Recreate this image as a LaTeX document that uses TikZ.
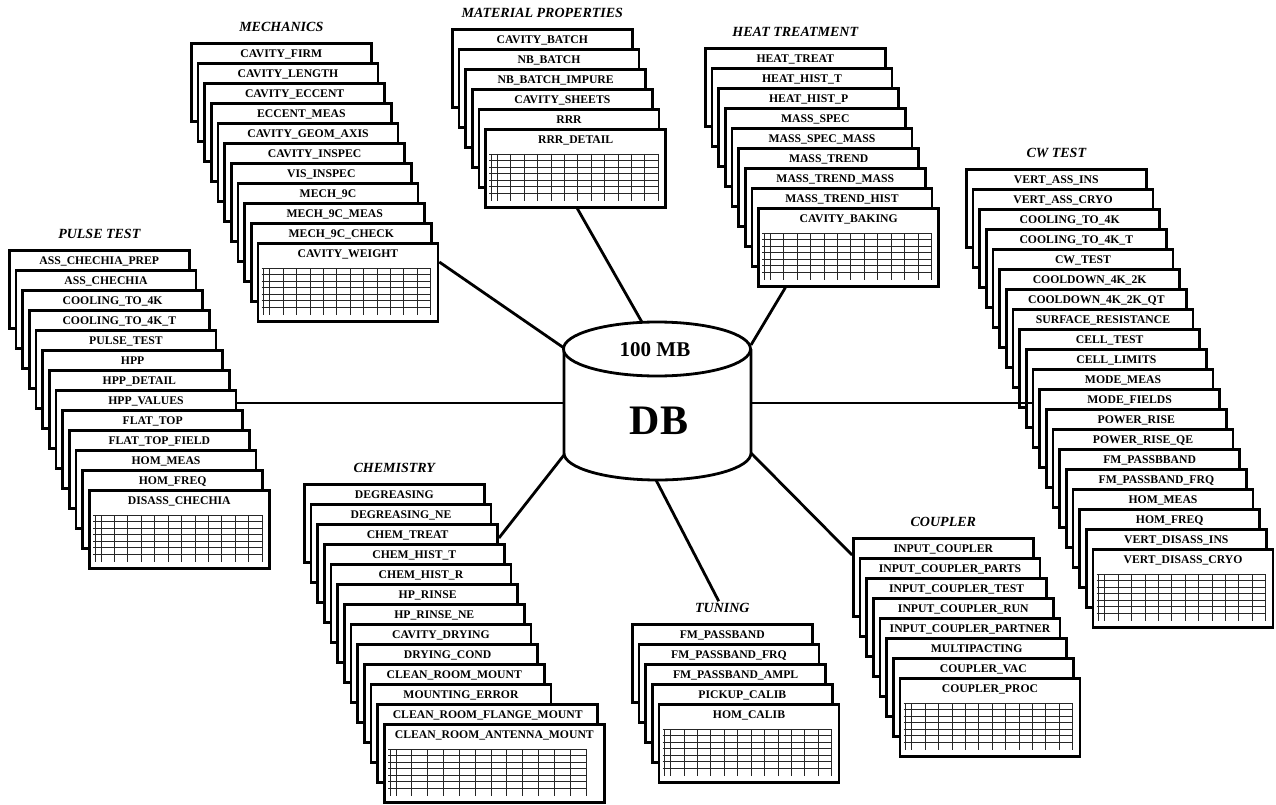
\documentclass[tikz,border=0pt]{standalone}
\usepackage{fontspec}
\setmainfont{Liberation Serif}
\usetikzlibrary{positioning}
\tikzset{card/.style={
    % The shape:
    rectangle, anchor=north west,
    % The size:
    minimum width=180pt, inner ysep=5.5pt,
    text height=9pt, text depth=58pt,
    % The border:
    line width=2.6pt, draw=black, fill=white,
    % Font
    font=\bfseries\fontsize{11.7}{12}\selectfont
    },
    stacktitle/.style={
    inner sep=2pt,
    font=\bfseries\itshape\fontsize{14}{14}\selectfont
    },
    gridline/.style={line width=0.9pt, black!85},
    dbline/.style={line width=2.8pt},
    link/.style={line width=2.8pt},
}
% one stack of cards: name, top left corner, title, labels
\newcommand{\cardstack}[4]{%
  \coordinate (#1-next) at (#2);
  \foreach \lbl [count=\i] in {#4} {
    \node[card] (#1-\i) at (#1-next) {\lbl};
    \coordinate (#1-next) at ([shift={(6.67,20)}]#1-\i.north west);
  }
  \node[stacktitle, above=8pt of #1-1] (#1-title) {#3};
}
% bottom card of a stack, with its table
\newcommand{\tablecard}[3][180]{%
  \node[card, minimum width=#1pt] (#2-last) at (#2-next) {#3};
  \pgfmathsetmacro{\gw}{min(#1-11,198)}
  \begin{scope}[shift={(#2-last.north west)}]
    \foreach \k in {0,...,6}
      \draw[gridline] (5,26+6.5*\k) -- ++(\gw,0);
    \foreach \k in {0,...,12}
      \draw[gridline] ({13+\k*(\gw-8)/12},26) -- ++(0,47);
    \draw[gridline] (7,26) -- ++(0,47);
  \end{scope}}

\begin{document}
\begin{tikzpicture}[x=1pt, y=-1pt]
  \useasboundingbox (0,0) rectangle (1276,805);

  \cardstack{pulse}{8,249}{PULSE TEST}{ASS\_CHECHIA\_PREP, ASS\_CHECHIA,
    COOLING\_TO\_4K, COOLING\_TO\_4K\_T, PULSE\_TEST, HPP, HPP\_DETAIL,
    HPP\_VALUES, FLAT\_TOP, FLAT\_TOP\_FIELD, HOM\_MEAS, HOM\_FREQ}
  \tablecard{pulse}{DISASS\_CHECHIA}

  \cardstack{mech}{190,42}{MECHANICS}{CAVITY\_FIRM, CAVITY\_LENGTH,
    CAVITY\_ECCENT, ECCENT\_MEAS, CAVITY\_GEOM\_AXIS, CAVITY\_INSPEC,
    VIS\_INSPEC, MECH\_9C, MECH\_9C\_MEAS, MECH\_9C\_CHECK}
  \tablecard{mech}{CAVITY\_WEIGHT}

  \cardstack{mat}{451,28}{MATERIAL PROPERTIES}{CAVITY\_BATCH, NB\_BATCH,
    NB\_BATCH\_IMPURE, CAVITY\_SHEETS, RRR}
  \tablecard{mat}{RRR\_DETAIL}

  \cardstack{heat}{704,47}{HEAT TREATMENT}{HEAT\_TREAT, HEAT\_HIST\_T,
    HEAT\_HIST\_P, MASS\_SPEC, MASS\_SPEC\_MASS, MASS\_TREND,
    MASS\_TREND\_MASS, MASS\_TREND\_HIST}
  \tablecard{heat}{CAVITY\_BAKING}

  \cardstack{cw}{965,168}{CW TEST}{VERT\_ASS\_INS, VERT\_ASS\_CRYO,
    COOLING\_TO\_4K, COOLING\_TO\_4K\_T, CW\_TEST, COOLDOWN\_4K\_2K,
    COOLDOWN\_4K\_2K\_QT, SURFACE\_RESISTANCE, CELL\_TEST, CELL\_LIMITS,
    MODE\_MEAS, MODE\_FIELDS, POWER\_RISE, POWER\_RISE\_QE, FM\_PASSBBAND,
    FM\_PASSBAND\_FRQ, HOM\_MEAS, HOM\_FREQ, VERT\_DISASS\_INS}
  \tablecard{cw}{VERT\_DISASS\_CRYO}

  \cardstack{chem}{303,483}{CHEMISTRY}{DEGREASING, DEGREASING\_NE,
    CHEM\_TREAT, CHEM\_HIST\_T, CHEM\_HIST\_R, HP\_RINSE, HP\_RINSE\_NE,
    CAVITY\_DRYING, DRYING\_COND, CLEAN\_ROOM\_MOUNT, MOUNTING\_ERROR}
  \node[card, minimum width=220pt] (chem-12) at (chem-next) {CLEAN\_ROOM\_FLANGE\_MOUNT};
  \coordinate (chem-next) at ([shift={(6.67,20)}]chem-12.north west);
  \tablecard[220]{chem}{CLEAN\_ROOM\_ANTENNA\_MOUNT}

  \cardstack{tun}{631,623}{TUNING}{FM\_PASSBAND, FM\_PASSBAND\_FRQ,
    FM\_PASSBAND\_AMPL, PICKUP\_CALIB}
  \tablecard{tun}{HOM\_CALIB}

  \cardstack{coup}{852,537}{COUPLER}{INPUT\_COUPLER, INPUT\_COUPLER\_PARTS,
    INPUT\_COUPLER\_TEST, INPUT\_COUPLER\_RUN, INPUT\_COUPLER\_PARTNER,
    MULTIPACTING, COUPLER\_VAC}
  \tablecard{coup}{COUPLER\_PROC}

  % the database
  \coordinate (db-n) at (643,324);
  \coordinate (db-nw) at (564,348);
  \coordinate (db-ne) at (751,345);
  \coordinate (db-w) at (564,403);
  \coordinate (db-e) at (751,403);
  \coordinate (db-sw) at (564,455);
  \coordinate (db-s) at (656,480);
  \coordinate (db-se) at (751,453);

  \draw[link] ([shift={(0,20)}]mech-last.north east) -- (db-nw);
  \draw[link] ([shift={(93,0)}]mat-last.south west) -- (db-n);
  \draw[link] ([shift={(28,0)}]heat-last.south west) -- (db-ne);
  \draw[link] (pulse-8.east |- db-w) -- (db-w);
  \draw[link] (cw-11.west |- db-e) -- (db-e);
  \draw[link] ([shift={(0,15)}]chem-3.north east) -- (db-sw);
  \draw[link] (tun-title) -- (db-s);
  \draw[link] ([shift={(0,18)}]coup-1.north west) -- (db-se);

  \draw[dbline, fill=white] (564,349) -- (564,453)
    arc[start angle=180, end angle=0, x radius=93.5, y radius=27] -- (751,349);
  \draw[dbline, fill=white] (657,349) ellipse [x radius=93.5, y radius=27];
  \node[font=\bfseries\fontsize{21}{21}\selectfont] (dbsize) at (655,350) {100 MB};
  \node[font=\bfseries\fontsize{42}{42}\selectfont] (dbname) at (659,421) {DB};
\end{tikzpicture}
\end{document}
